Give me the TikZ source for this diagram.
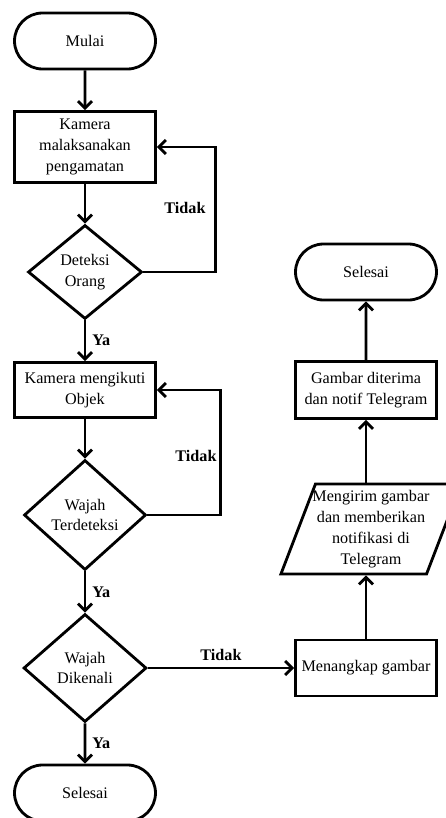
\documentclass[tikz,border=0pt]{standalone}
\usepackage{fontspec}
\setmainfont{Liberation Serif}
\usetikzlibrary{shapes.geometric,shapes.misc,arrows.meta}

\begin{document}
\begin{tikzpicture}[x=0.02cm, y=-0.02cm,
    font=\fontsize{9.2}{11.9}\selectfont,
    line width=1.6pt,
    >={Straight Barb[length=4pt,width=8pt]},
    startstop/.style={rounded rectangle, draw, minimum width=2.82cm, minimum height=1.12cm, inner sep=0pt},
    process/.style={rectangle, draw, align=center, minimum width=2.82cm, inner sep=0pt},
    decision/.style={diamond, draw, align=center, inner sep=0pt},
    io/.style={trapezium, trapezium left angle=69, trapezium right angle=111, draw, align=center, inner xsep=-2pt, minimum height=1.8cm},
    lbl/.style={font=\fontsize{9.2}{11.9}\selectfont\bfseries}
    ]
    \useasboundingbox (0,0) rectangle (446,818);

    % kolom kiri
    \node [startstop] (mulai) at (85,41) {Mulai};
    \node [process, minimum height=1.42cm] (amati) at (85,147) {Kamera\\malaksanakan\\pengamatan};
    \node [decision, minimum width=2.28cm, minimum height=1.88cm] (orang) at (85,272) {Deteksi\\Orang};
    \node [process, minimum height=1.1cm] (ikuti) at (85,390) {Kamera mengikuti\\Objek};
    \node [decision, minimum width=2.44cm, minimum height=2.2cm] (wajah) at (85,515) {Wajah\\Terdeteksi};
    \node [decision, minimum width=2.46cm, minimum height=2.16cm] (kenal) at (85,668) {Wajah\\Dikenali};
    \node [startstop] (selesai) at (85,793) {Selesai};

    % kolom kanan
    \node [process, minimum height=1.12cm] (tangkap) at (366,668) {Menangkap gambar};
    \node [io] (kirim) at (371,529) {Mengirim gambar\\dan memberikan\\notifikasi di\\Telegram};
    \node [process, minimum height=1.14cm] (terima) at (366,390) {Gambar diterima\\dan notif Telegram};
    \node [startstop] (selesai2) at (366,272) {Selesai};

    \draw [->] (mulai) -- (amati);
    \draw [->] (amati) -- (orang);
    \draw [->] (orang) -- node [lbl, right] {Ya} (ikuti);
    \draw [->] (orang.east) -- ++(72,0) |- (amati.east);
    \node [lbl] (tidak1) at (185,208) {Tidak};

    \draw [->] (ikuti) -- (wajah);
    \draw [->] (wajah) -- node [lbl, right] {Ya} (kenal);
    \draw [->] (wajah.east) -- ++(73,0) |- (ikuti.east);
    \node [lbl] (tidak2) at (196,456) {Tidak};

    \draw [->] (kenal) -- node [lbl, right] {Ya} (selesai);
    \draw [->] (kenal) -- node [lbl, above] {Tidak} (tangkap);

    \draw [->] (tangkap) -- (tangkap |- kirim.south);
    \draw [->] (terima |- kirim.north) -- (terima);
    \draw [->] (terima) -- (selesai2);

\end{tikzpicture}
\end{document}
